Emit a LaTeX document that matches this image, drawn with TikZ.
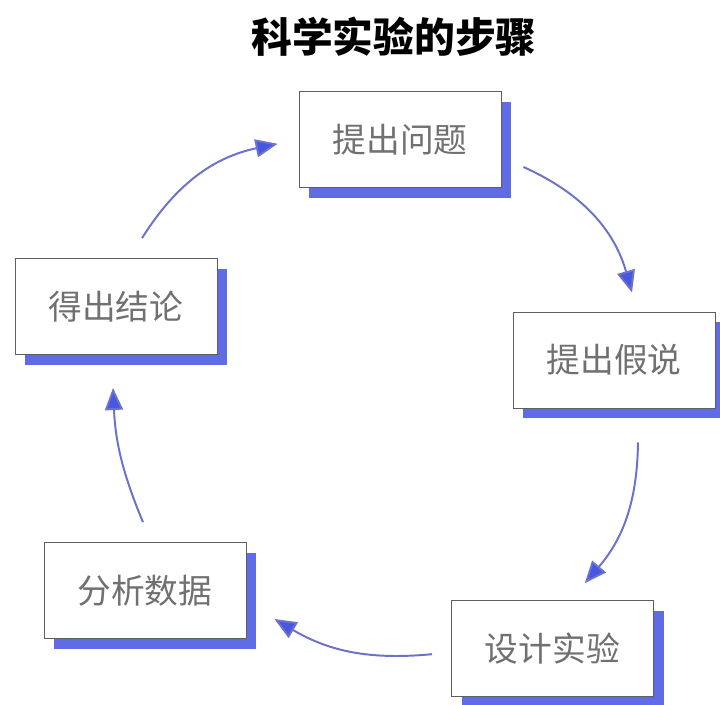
\documentclass[tikz,border=0pt]{standalone}
\usepackage{fontspec}
\newfontfamily\cjk{Noto Sans CJK SC}
\usepackage{xcolor}
\usetikzlibrary{arrows.meta, shadows, positioning}

\definecolor{shadowblue}{RGB}{96,108,230}
\definecolor{arrowblue}{RGB}{108,114,200}
\definecolor{headblue}{RGB}{72,86,228}
\definecolor{framegray}{RGB}{95,95,95}
\definecolor{textgray}{RGB}{112,112,112}

\begin{document}
\begin{tikzpicture}[
    every node/.style={font=\cjk},
    stepbox/.style={rectangle, draw=framegray, line width=0.6pt, fill=white, minimum width=5.05cm, minimum height=2.4cm, align=center, text=textgray, font=\cjk\fontsize{24}{28}\selectfont, drop shadow={shadow xshift=0.26cm, shadow yshift=-0.26cm, fill=shadowblue, opacity=1}},
    arrow/.style={-{Triangle[length=5.5mm, width=4.5mm, fill=headblue]}, line width=1.4pt, draw=arrowblue}
]
\useasboundingbox (0,0) rectangle (18,17.625);
\node[font=\cjk\bfseries\fontsize{29}{32}\selectfont] (title) at (9.85,16.7) {科学实验的步骤};
\node[stepbox] (wenti) at (10.0,14.14) {提出问题};
\node[stepbox] (jiashuo) at (15.35,8.625) {提出假说};
\node[stepbox] (shiyan) at (13.81,1.41) {设计实验};
\node[stepbox] (shuju) at (3.625,2.86) {分析数据};
\node[stepbox] (jielun) at (2.9,9.96) {得出结论};

\draw[arrow] ([xshift=0.65cm, yshift=0.5cm]jielun.north) to[bend left=23] ([xshift=-0.525cm, yshift=-0.11cm]wenti.west);
\draw[arrow] ([xshift=0.55cm, yshift=-0.69cm]wenti.east) to[bend left=25] ([xshift=0.45cm, yshift=0.475cm]jiashuo.north);
\draw[arrow] ([xshift=0.6cm, yshift=-0.85cm]jiashuo.south) to[bend left=20] ([xshift=0.81cm, yshift=0.425cm]shiyan.north);
\draw[arrow] ([xshift=-0.475cm, yshift=-0.14cm]shiyan.west) to[bend left=18] ([xshift=0.7cm, yshift=-0.71cm]shuju.east);
\draw[arrow] ([xshift=-0.05cm, yshift=0.5cm]shuju.north) to[bend left=10] ([xshift=-0.075cm, yshift=-0.825cm]jielun.south);
\end{tikzpicture}
\end{document}
